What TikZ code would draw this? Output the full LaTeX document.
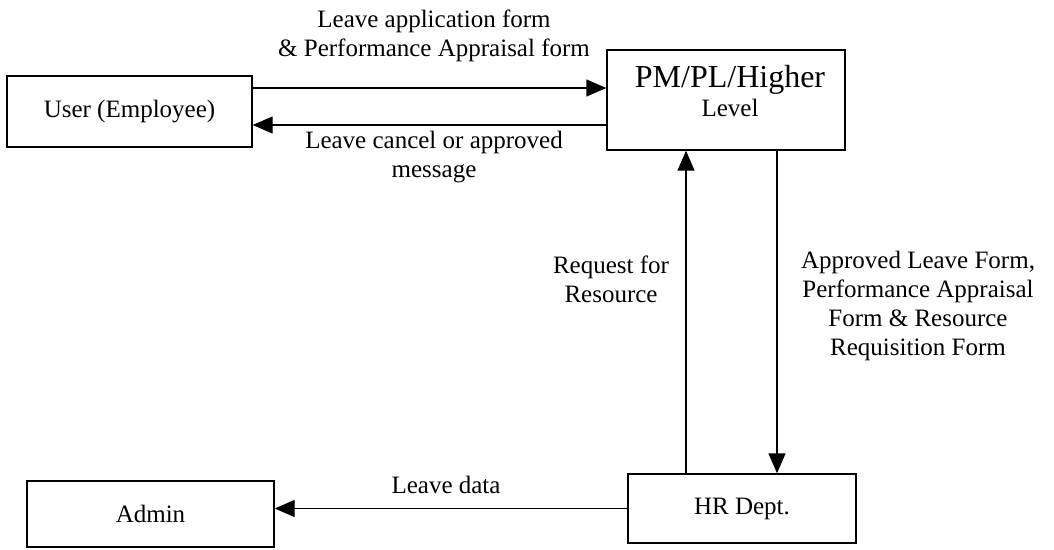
\documentclass[tikz,border=0pt]{standalone}
\usepackage{fontspec}
\setmainfont{Liberation Serif}
\usetikzlibrary{arrows.meta}
\tikzset{
  block/.style={draw, line width=1.4pt, inner sep=0pt, align=center,
    font=\fontsize{25}{29}\selectfont},
  lbl/.style={align=center, inner sep=0pt, font=\fontsize{25}{29}\selectfont},
  flow/.style={line width=1.4pt, -{Triangle[length=20pt, width=17pt]}}
}
\begin{document}
\begin{tikzpicture}[x=1pt, y=-1pt]
  \useasboundingbox (0,0) rectangle (1054,549);

  % entities
  \node[block, minimum width=245pt, minimum height=71pt] (user) at (129.5,111.5) {User (Employee)};
  \node[block, minimum width=238pt, minimum height=100pt] (pm) at (726,100) {};
  \node[lbl] (pmtext) at (730,91) {{\fontsize{32}{38}\selectfont PM/PL/Higher}\\Level};
  \node[block, minimum width=228pt, minimum height=69pt] (hr) at (742,508.5) {HR Dept.};
  \node[block, minimum width=247pt, minimum height=66pt] (admin) at (150.5,514) {Admin};

  % attachment points of the flows
  \coordinate (u1) at ([yshift=23.5pt]user.east);
  \coordinate (u2) at ([yshift=-13.5pt]user.east);
  \coordinate (h1) at ([xshift=-56pt]hr.north);
  \coordinate (h2) at ([xshift=35pt]hr.north);

  % flows
  \draw[flow] (u1) -- (u1 -| pm.west);
  \draw[flow] (u2 -| pm.west) -- (u2);
  \draw[flow] (h1) -- (h1 |- pm.south);
  \draw[flow] (h2 |- pm.south) -- (h2);
  \draw[flow] (hr.west) -- (hr.west -| admin.east);

  % flow labels
  \node[lbl] (l1) at (434,36) {Leave application form\\\& Performance Appraisal form};
  \node[lbl] (l2) at (434,157) {Leave cancel or approved\\message};
  \node[lbl] (l3) at (611,279) {Request for\\Resource};
  \node[lbl] (l4) at (918,306) {Approved Leave Form,\\Performance Appraisal\\Form \& Resource\\Requisition Form};
  \node[lbl] (l5) at (446,485) {Leave data};
\end{tikzpicture}
\end{document}
